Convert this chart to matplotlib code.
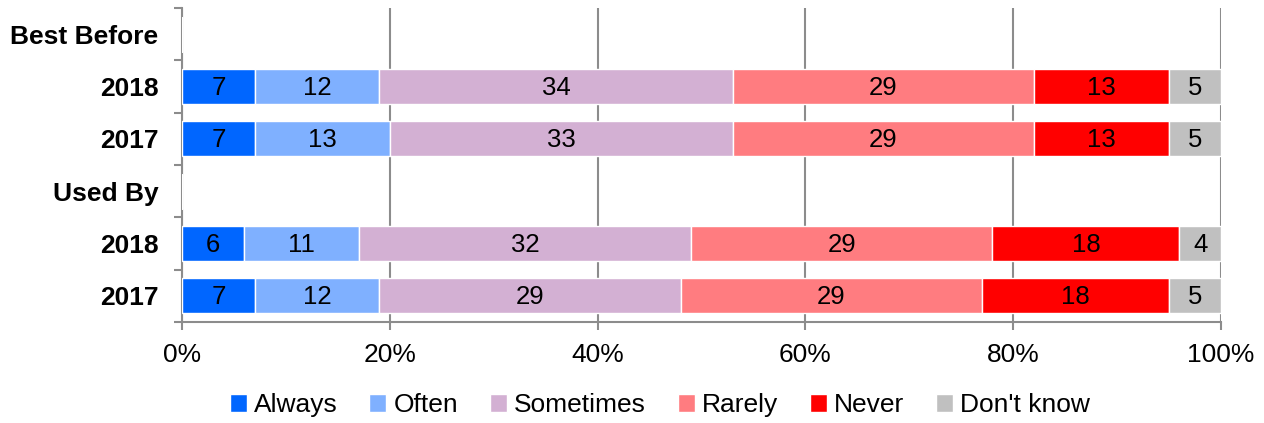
import numpy as np
import matplotlib.pyplot as plt
from matplotlib.ticker import FixedLocator, PercentFormatter

plt.rcParams['font.family'] = ['Liberation Sans', 'DejaVu Sans']

rows = ["Best Before", "2018", "2017", "Used By", "2018", "2017"]
responses = ["Always", "Often", "Sometimes", "Rarely", "Never", "Don't know"]
colors = ["#0066FF", "#7FB0FF", "#D3B0D3", "#FF7C80", "#FF0000", "#C0C0C0"]

# percentages per row; header rows stay empty
always    = [0, 7, 7, 0, 6, 7]
often     = [0, 12, 13, 0, 11, 12]
sometimes = [0, 34, 33, 0, 32, 29]
rarely    = [0, 29, 29, 0, 29, 29]
never     = [0, 13, 13, 0, 18, 18]
dont_know = [0, 5, 5, 0, 4, 5]
series = [always, often, sometimes, rarely, never, dont_know]

fig = plt.figure(figsize=(12.64, 4.23), dpi=100)
ax = fig.add_axes([0.144, 0.239, 0.822, 0.742])

y = np.arange(len(rows))
left = np.zeros(len(rows))
for name, vals, col in zip(responses, series, colors):
    vals = np.array(vals, dtype=float)
    bars = ax.barh(y, vals, left=left, height=0.67, color=col,
                   edgecolor="white", linewidth=1, label=name, zorder=3)
    for b, v in zip(bars, vals):
        if v > 0:
            ax.text(b.get_x() + b.get_width() / 2, b.get_y() + b.get_height() / 2 + 0.03,
                    f"{int(v)}", ha="center", va="center", fontsize=18.5, zorder=4)
    left += vals

ax.set_xlim(0, 100)
ax.set_ylim(len(rows) - 0.5, -0.5)
ax.xaxis.set_major_locator(FixedLocator([0, 20, 40, 60, 80, 100]))
ax.xaxis.set_major_formatter(PercentFormatter(100, decimals=0))
ax.grid(axis="x", color="#8C8C8C", linewidth=1.5, zorder=0)

ax.set_yticks(y)
ax.set_yticklabels(rows, fontsize=19, fontweight="bold")
ax.yaxis.set_minor_locator(FixedLocator(np.arange(-0.5, len(rows), 1.0)))
ax.tick_params(axis="y", which="major", length=0, pad=17)
ax.tick_params(axis="y", which="minor", length=6, width=1.5, color="#8C8C8C")
ax.tick_params(axis="x", length=6, width=1.5, color="#8C8C8C", labelsize=19, pad=9)

for s in ["top", "right"]:
    ax.spines[s].set_visible(False)
for s in ["left", "bottom"]:
    ax.spines[s].set_color("#8C8C8C")
    ax.spines[s].set_linewidth(1.5)

ax.legend(loc="center", bbox_to_anchor=(0.46, -0.265), ncol=6, frameon=False,
          fontsize=19, handlelength=0.65, handleheight=0.65, handletextpad=0.27,
          columnspacing=1.2, borderpad=0)

fig.savefig("out.png", dpi=100)
